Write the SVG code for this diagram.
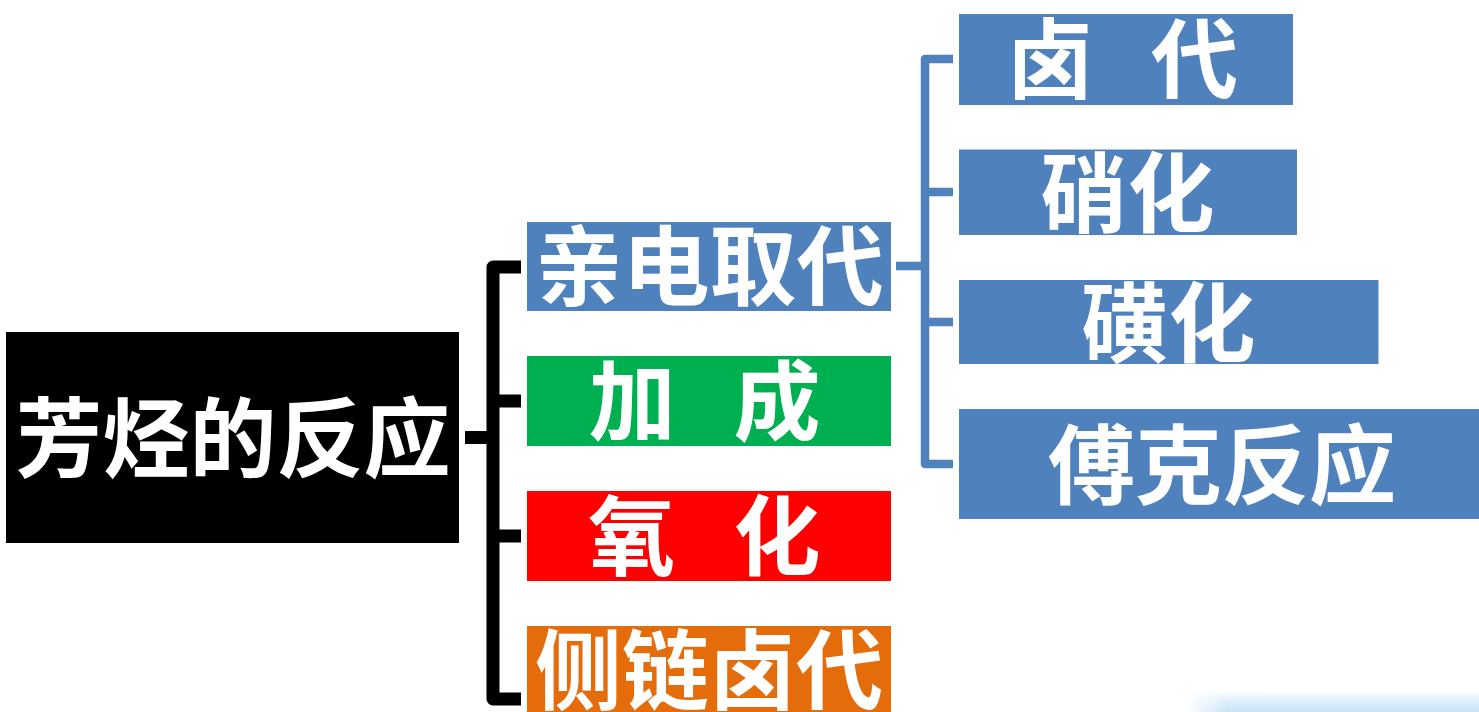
<svg xmlns="http://www.w3.org/2000/svg" width="1479" height="712" viewBox="0 0 1479 712">
<defs>
<linearGradient id="fade" x1="0" y1="0" x2="0" y2="1">
<stop offset="0" stop-color="#ffffff" stop-opacity="0"/>
<stop offset="0.45" stop-color="#e3f1fb"/>
<stop offset="1" stop-color="#c9e3f7"/>
</linearGradient>
<linearGradient id="fadeX" x1="0" y1="0" x2="1" y2="0">
<stop offset="0" stop-color="#ffffff"/>
<stop offset="0.15" stop-color="#ffffff" stop-opacity="0"/>
</linearGradient>
</defs>
<style>
.t{font-family:"Noto Sans CJK SC","Noto Sans CJK TC",sans-serif;font-weight:700;font-size:87px;fill:#ffffff;text-anchor:middle}
.blue{fill:#4F81BD}
.green{fill:#00B050}
.red{fill:#FF0000}
.orange{fill:#E46C0A}
.lk{fill:none;stroke:#000000;stroke-width:13;stroke-linejoin:round}
.rb{fill:none;stroke:#4F81BD;stroke-width:8.5;stroke-linejoin:round}
</style>
<rect width="1479" height="712" fill="#ffffff"/>
<g id="decor">
<rect x="1185" y="688" width="294" height="24" fill="url(#fade)"/>
<rect x="1185" y="688" width="294" height="24" fill="url(#fadeX)"/>
</g>
<g id="connectors">
<path class="lk" d="M521,267 H493 V699 H521"/>
<path class="lk" d="M493,401 H521 M493,536 H521 M465,437.5 H493"/>
<path class="rb" d="M953,59 H925 V464 H953"/>
<path class="rb" d="M925,192 H953 M925,322 H953 M896,266 H925"/>
</g>
<g id="root">
<rect x="6" y="332" width="453" height="211" fill="#000000"/>
<text class="t" x="233" y="471">芳烃的反应</text>
</g>
<g id="n-qindian">
<rect class="blue" x="527" y="222" width="364" height="89"/>
<text class="t" x="709.5" y="299">亲电取代</text>
</g>
<g id="n-jiacheng">
<rect class="green" x="527" y="356" width="364" height="90"/>
<text class="t" y="434"><tspan x="642">加</tspan> <tspan x="777">成</tspan></text>
</g>
<g id="n-yanghua">
<rect class="red" x="527" y="491" width="364" height="90"/>
<text class="t" y="569"><tspan x="641.5">氧</tspan> <tspan x="777">化</tspan></text>
</g>
<g id="n-celian">
<rect class="orange" x="527" y="626" width="364" height="90"/>
<text class="t" x="709" y="703">侧链卤代</text>
</g>
<g id="n-ludai">
<rect class="blue" x="959" y="14" width="334" height="91"/>
<text class="t" y="92"><tspan x="1060">卤</tspan> <tspan x="1194.5">代</tspan></text>
</g>
<g id="n-xiaohua">
<rect class="blue" x="959" y="149.5" width="338" height="85.5"/>
<text class="t" x="1127.5" y="226">硝化</text>
</g>
<g id="n-huanghua">
<rect class="blue" x="959" y="280" width="419.5" height="84"/>
<text class="t" x="1168.5" y="356">磺化</text>
</g>
<g id="n-fuke">
<rect class="blue" x="959" y="409" width="530" height="110"/>
<text class="t" x="1222" y="498">傅克反应</text>
</g>
</svg>
